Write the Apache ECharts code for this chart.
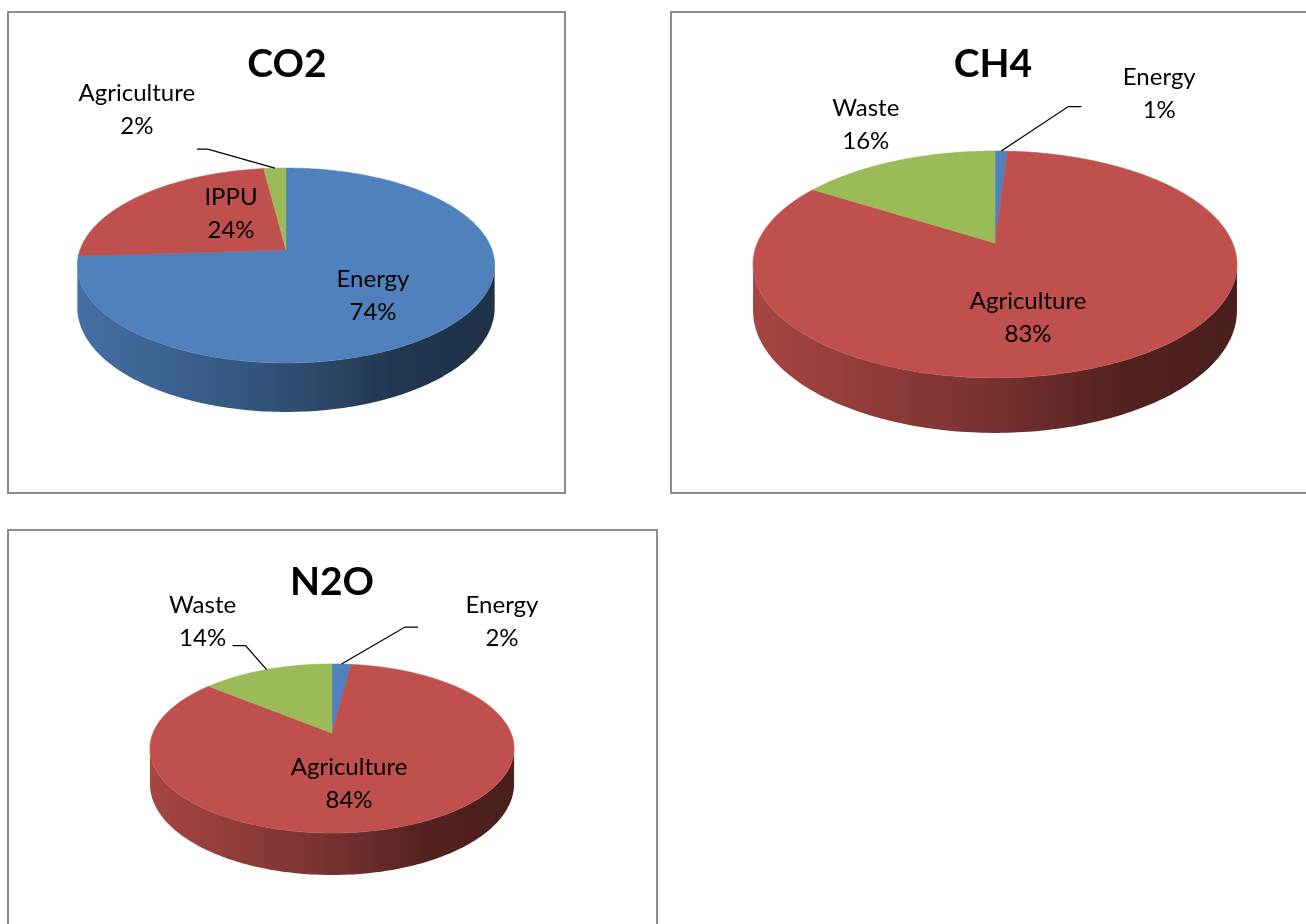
<!DOCTYPE html>
<html>
<head>
<meta charset="utf-8">
<script src="https://cdn.jsdelivr.net/npm/echarts@6/dist/echarts.min.js"></script>
<style>
  html, body { margin: 0; background: #fff; }
  #chart { width: 1306px; height: 924px; }
</style>
</head>
<body>
<div id="chart"></div>
<script>
// data: share of each sector, per gas
const co2Names = ["Energy", "IPPU", "Agriculture"];
const co2Values = [74, 24, 2];
const ch4Names = ["Energy", "Agriculture", "Waste"];
const ch4Values = [1, 83, 16];
const n2oNames = ["Energy", "Agriculture", "Waste"];
const n2oValues = [2, 84, 14];

// slice colours by position (Office palette)
const palette = ["#4f81bd", "#c0504d", "#9bbb59"];

// layout of each tilted pie: apex, radii, perspective, depth, label placement
const co2Layout = {
  cx: 286, cy: 250, A: 206, a: 95, c: -0.159, depth: 49,
  labels: [
    { inside: [87, 46] },
    { inside: [-55, -36] },
    { elbow: [-67, -19], tail: -11, text: [-138, -58] },
  ],
};
const ch4Layout = {
  cx: 995, cy: 243, A: 237.6, a: 109.4, c: -0.189, depth: 55,
  labels: [
    { elbow: [67, -44.5], tail: 13, text: [158, -57] },
    { inside: [33, 75] },
    { text: [-31, -36] },
  ],
};
const n2oLayout = {
  cx: 332, cy: 733, A: 179, a: 81.7, c: -0.183, depth: 42,
  labels: [
    { elbow: [63.5, -37], tail: 13, text: [160.5, -42] },
    { inside: [17, 50.5] },
    { elbow: [-21, -24], tail: -13, text: [-64, -47.5] },
  ],
};

function shade(hex, k) {
  const n = parseInt(hex.slice(1), 16);
  const r = Math.round(((n >> 16) & 255) * k);
  const g = Math.round(((n >> 8) & 255) * k);
  const b = Math.round((n & 255) * k);
  return "rgb(" + r + "," + g + "," + b + ")";
}

function pieSeries(names, values, L) {
  const total = values.reduce((s, v) => s + v, 0);
  const starts = [];
  let acc = 0;
  values.forEach((v) => {
    starts.push((acc / total) * 360);
    acc += v;
  });
  const sNear = 1 / (1 + L.c);
  // project a point of the disc (angle clockwise from 12 o'clock)
  function proj(deg, r, drop) {
    const t = (deg * Math.PI) / 180;
    const u = r * Math.sin(t);
    const v = -r * Math.cos(t);
    const s = 1 / (1 + L.c * v);
    return [L.cx + L.A * u * s, L.cy + L.a * v * s + (drop ? (L.depth * s) / sNear : 0)];
  }
  function arc(a0, a1, drop) {
    const pts = [];
    const n = Math.max(2, Math.ceil(Math.abs(a1 - a0)));
    for (let k = 0; k <= n; k++) pts.push(proj(a0 + ((a1 - a0) * k) / n, 1, drop));
    return pts;
  }
  const frontR = (Math.acos(L.c) * 180) / Math.PI;
  const frontL = 360 - frontR;
  const halfW = L.A * 1.03;

  return {
    type: "custom",
    coordinateSystem: "none",
    silent: true,
    data: values.map((v, i) => ({ name: names[i], value: v })),
    renderItem: function (params, api) {
      const i = params.dataIndex;
      const val = api.value(0);
      const a0 = starts[i];
      const a1 = a0 + (val / total) * 360;
      const color = palette[i];
      const children = [];

      // visible side wall
      const lo = Math.max(a0, frontR);
      const hi = Math.min(a1, frontL);
      if (hi > lo) {
        const pts = arc(lo, hi, false).concat(arc(hi, lo, true));
        children.push({
          type: "polygon",
          z2: 1,
          shape: { points: pts },
          style: {
            fill: {
              type: "linear", global: true,
              x: L.cx - halfW, y: 0, x2: L.cx + halfW, y2: 0,
              colorStops: [
                { offset: 0, color: shade(color, 0.87) },
                { offset: 0.44, color: shade(color, 0.65) },
                { offset: 0.77, color: shade(color, 0.42) },
                { offset: 1, color: shade(color, 0.38) },
              ],
            },
          },
        });
      }

      // top face
      children.push({
        type: "polygon",
        z2: 2,
        shape: { points: [[L.cx, L.cy]].concat(arc(a0, a1, false)) },
        style: { fill: color, stroke: color, lineWidth: 0.6 },
      });

      // label
      const lab = L.labels[i];
      const pct = Math.round((val / total) * 100) + "%";
      let tx, ty;
      if (lab.inside) {
        tx = L.cx + lab.inside[0];
        ty = L.cy + lab.inside[1];
      } else {
        const anchor = proj((a0 + a1) / 2, 1, false);
        tx = anchor[0] + lab.text[0];
        ty = anchor[1] + lab.text[1];
        if (lab.elbow) {
          const e = [anchor[0] + lab.elbow[0], anchor[1] + lab.elbow[1]];
          children.push({
            type: "polyline",
            z2: 5,
            shape: { points: [anchor, e, [e[0] + lab.tail, e[1]]] },
            style: { stroke: "#000", lineWidth: 1.3, fill: null },
          });
        }
      }
      children.push({
        type: "text",
        z2: 10,
        style: {
          text: names[i] + "\n" + pct,
          x: tx, y: ty,
          align: "center", verticalAlign: "middle",
          textAlign: "center", textVerticalAlign: "middle",
          fill: "#000", fontSize: 24, fontFamily: "Lato", lineHeight: 33,
        },
      });
      return { type: "group", children: children };
    },
  };
}

function box(x, y, w, h) {
  return {
    type: "rect", z: -1,
    shape: { x: x, y: y, width: w, height: h },
    style: { fill: "#fff", stroke: "#8c8c8c", lineWidth: 2 },
  };
}
function title(text, x, y) {
  return {
    type: "text",
    style: {
      text: text, x: x, y: y,
      align: "center", verticalAlign: "middle",
      textAlign: "center", textVerticalAlign: "middle",
      fill: "#000", fontSize: 39, fontWeight: "bold", fontFamily: "Lato",
    },
  };
}

const chart = echarts.init(document.getElementById("chart"));
chart.setOption({
  animation: false,
  graphic: [
    box(8, 12, 557, 481),
    box(671, 12, 700, 481),
    box(8, 530, 649, 460),
    title("CO2", 287, 64),
    title("CH4", 993, 64),
    title("N2O", 332, 582),
  ],
  series: [
    pieSeries(co2Names, co2Values, co2Layout),
    pieSeries(ch4Names, ch4Values, ch4Layout),
    pieSeries(n2oNames, n2oValues, n2oLayout),
  ],
});
</script>
</body>
</html>
